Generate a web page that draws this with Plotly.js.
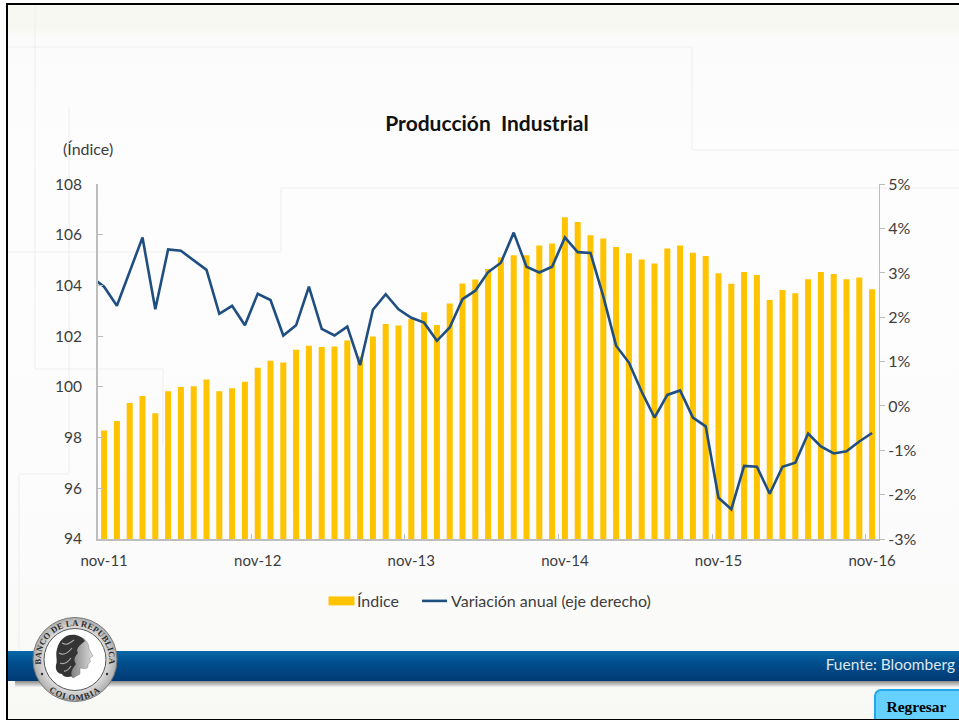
<!DOCTYPE html>
<html lang="es"><head><meta charset="utf-8">
<script src="https://cdn.plot.ly/plotly-3.0.1.min.js"></script>
<style>
html,body{margin:0;padding:0;background:#fff;width:959px;height:721px;overflow:hidden;font-family:Lato,sans-serif}
#bg{position:absolute;left:8px;top:4.5px;width:951px;height:714px;background:linear-gradient(#f8f8f3 0,#f8f8f3 25px,#fbfbfb 32px,#fdfdfd 200px,#fbfbfb 560px,#f8f8f5 714px)}
#chart{position:absolute;left:0;top:0;width:959px;height:721px}
.edge{position:absolute;background:#000}
#band{position:absolute;left:8px;top:650.5px;width:951px;height:30px;background:linear-gradient(#0b69a9 0,#02508f 35%,#003a74 100%)}
#shadow{position:absolute;left:15px;top:680.5px;width:944px;height:6px;background:linear-gradient(#8a8a8a,#f0f0f0)}
#fuente{position:absolute;right:4px;top:654px;color:#dbe6ef;font-size:15.5px;line-height:20px;white-space:nowrap}
#btn{position:absolute;left:874px;top:689px;width:85px;height:29.5px;box-sizing:border-box;background:#66d1ff;border:2px solid #1fa8ec;border-right:0;border-bottom:0;border-top-left-radius:7px;font:bold 15.5px "Liberation Serif",serif;color:#000;text-align:center;line-height:32px;padding-right:2px}
#seal{position:absolute;left:30px;top:614px}
</style></head><body>
<div id="bg"></div>
<div id="chart"></div>
<div id="shadow"></div><div id="band"></div>
<div id="fuente">Fuente: Bloomberg</div>
<div id="btn">Regresar</div>
<div class="edge" style="left:6px;top:2.5px;width:953px;height:2px"></div>
<div class="edge" style="left:6px;top:2.5px;width:2px;height:717.5px"></div>
<div class="edge" style="left:6px;top:718.5px;width:953px;height:1.5px"></div>
<svg id="seal" width="90" height="92" viewBox="0 0 90 92">
 <defs>
  <path id="arcTop" d="M 11.3 52 A 34.2 34.2 0 1 1 78.7 52"/>
  <path id="arcBot" d="M 17 75 A 40 40 0 0 0 73 75"/>
  <radialGradient id="ring" cx="50%" cy="50%" r="50%"><stop offset="70%" stop-color="#e4e4e4"/><stop offset="100%" stop-color="#adadad"/></radialGradient>
  <linearGradient id="face" x1="0" x2="1"><stop offset="0" stop-color="#6f6f6f"/><stop offset="1" stop-color="#dedede"/></linearGradient>
 </defs>
 <circle cx="45" cy="45.5" r="42" fill="url(#ring)" stroke="#7a7a7a" stroke-width="1"/>
 <circle cx="45" cy="45.5" r="31" fill="#fff" stroke="#555" stroke-width="1"/>
 <text font-family="Liberation Serif,serif" font-weight="bold" font-size="8.6" fill="#2c2c2c" letter-spacing="0.2"><textPath href="#arcTop" startOffset="50%" text-anchor="middle">BANCO DE LA REPUBLICA</textPath></text>
 <text font-family="Liberation Serif,serif" font-weight="bold" font-size="8.6" fill="#2c2c2c" letter-spacing="1"><textPath href="#arcBot" startOffset="50%" text-anchor="middle">COLOMBIA</textPath></text>
 <circle cx="12" cy="60" r="1.2" fill="#333"/><circle cx="77" cy="60" r="1.2" fill="#333"/>
 <path d="M48 23 C55 23 59 29 59 35 L63 42 L59.5 44 L60.5 48 L58 50 L58 53 C56 56 52 54 50 54 L50 60 L43 64 L37 58 L41 38 Z" fill="url(#face)" stroke="#666" stroke-width="0.4"/>
 <path d="M46 21 C36 19 29 26 27 35 C25 42 28 46 26 51 C25 56 28 60 32 60 C33 63 38 64 42 62 C40 58 43 54 46 50 C43 46 45 42 48 39 C45 35 50 31 55 27 C53 24 50 22 46 21 Z" fill="#343434"/>
 <path d="M32 29 C37 32 40 29 44 26 M29 39 C34 42 38 39 42 34 M30 49 C34 51 38 48 41 44 M34 57 C37 58 39 55 41 52" fill="none" stroke="#a8a8a8" stroke-width="1.2"/>
</svg>
<script>
// Meses: índice 0 = nov-11, índice 60 = nov-16
const tickMonths = [0, 12, 24, 36, 48, 60];
const tickLabels = ["nov-11", "nov-12", "nov-13", "nov-14", "nov-15", "nov-16"];
const indice = [98.28,98.66,99.37,99.64,98.96,99.83,100.0,100.03,100.3,99.83,99.95,100.21,100.76,101.04,100.97,101.47,101.63,101.58,101.6,101.83,101.2,101.99,102.49,102.43,102.68,102.95,102.45,103.3,104.08,104.24,104.66,105.12,105.2,105.2,105.58,105.66,106.7,106.51,105.99,105.86,105.53,105.28,105.03,104.87,105.47,105.58,105.3,105.17,104.49,104.07,104.54,104.42,103.43,103.83,103.7,104.25,104.54,104.46,104.25,104.32,103.86];
// La serie de variación empieza un mes antes (oct-11), recortada por el eje
const variacion = [2.91,2.69,2.26,3.05,3.80,2.18,3.53,3.50,3.28,3.07,2.08,2.26,1.82,2.53,2.39,1.59,1.82,2.69,1.74,1.59,1.79,0.92,2.17,2.52,2.18,1.99,1.88,1.47,1.77,2.41,2.60,3.02,3.23,3.91,3.14,3.01,3.14,3.80,3.47,3.45,2.47,1.36,0.98,0.32,-0.26,0.25,0.35,-0.26,-0.46,-2.07,-2.33,-1.35,-1.37,-1.98,-1.37,-1.28,-0.62,-0.91,-1.07,-1.02,-0.80,-0.61];
const rightTicks = [-3,-2,-1,0,1,2,3,4,5];
const rightLabels = ["-3%","-2%","-1%","0%","1%","2%","3%","4%","5%"];
const leftTicks = [94,96,98,100,102,104,106,108];
const titulo = "<b>Producción  Industrial</b>";
const unidad = "(Índice)";
const faintLines = [
 [35,4,35,369],[35,369,163,369],[163,369,163,445],
 [8,47,692,47],[692,47,692,150],[692,150,959,150],
 [69,107,69,474],[69,474,19,474],[19,474,19,650],
 [8,252,281,252],[281,252,281,188],[281,188,959,188]
];

const W = 959, H = 721;
const px = v => v / W, py = v => 1 - v / H;
const GREY = "#bdbdbd", TXT = "#3d3d3d", FONT = "Lato, sans-serif";

const traces = [
 {type:"bar", name:"Índice", x:indice.map((_,i)=>i), y:indice, marker:{color:"#ffc300",line:{width:0}}, xaxis:"x", yaxis:"y", hoverinfo:"y"},
 {type:"scatter", mode:"lines", name:"Variación anual (eje derecho)", x:variacion.map((_,i)=>i-1), y:variacion, line:{color:"#1f4e80",width:2.6}, xaxis:"x", yaxis:"y2", hoverinfo:"y"}
];
const layout = {
 width:W, height:H, margin:{l:0,r:0,t:0,b:0},
 paper_bgcolor:"rgba(0,0,0,0)", plot_bgcolor:"rgba(0,0,0,0)",
 font:{family:FONT,size:15,color:TXT},
 title:{text:titulo, x:px(487), xanchor:"center", y:py(124), yanchor:"middle", font:{family:FONT,size:21,color:"#111"}},
 bargap:0.53,
 showlegend:true,
 legend:{orientation:"h", x:px(317), xanchor:"left", y:py(601), yanchor:"middle", font:{family:FONT,size:16,color:TXT}, bgcolor:"rgba(0,0,0,0)", itemwidth:30, itemclick:false, itemdoubleclick:false},
 xaxis:{domain:[px(97.7),px(878.5)], range:[-0.5,60.5], tickmode:"array", tickvals:tickMonths, ticktext:tickLabels, ticks:"outside", ticklen:7, tickcolor:"rgba(0,0,0,0)", showgrid:false, zeroline:false, showline:true, linecolor:GREY, linewidth:1.5, tickangle:0,
   tickfont:{family:FONT,size:15,color:TXT}, minor:{tickmode:"linear",tick0:-0.5,dtick:12,ticks:"inside",ticklen:5,tickcolor:GREY,tickwidth:1,showgrid:false}},
 yaxis:{domain:[py(539),py(184.3)], range:[94,108], tickmode:"array", tickvals:leftTicks, ticks:"inside", ticklen:5, tickcolor:GREY, showgrid:false, zeroline:false, showline:true, linecolor:GREY, linewidth:1.5, ticklabelstandoff:11, tickfont:{family:FONT,size:15.5,color:TXT}},
 yaxis2:{domain:[py(539),py(184.3)], range:[-3,5], overlaying:"y", side:"right", anchor:"x", tickmode:"array", tickvals:rightTicks, ticktext:rightLabels, ticks:"outside", ticklen:5, tickcolor:GREY, showgrid:false, zeroline:false, showline:true, linecolor:GREY, linewidth:1.5, ticklabelstandoff:5.5, tickfont:{family:FONT,size:16,color:TXT}},
 annotations:[{text:unidad, xref:"paper", yref:"paper", x:px(88), y:py(148), xanchor:"center", yanchor:"middle", showarrow:false, font:{family:FONT,size:16,color:TXT}}],
 shapes:faintLines.map(l=>({type:"line", layer:"below", xref:"paper", yref:"paper", x0:px(l[0]), y0:py(l[1]), x1:px(l[2]), y1:py(l[3]), line:{color:"#f0f0f0",width:1.2}}))
};
Plotly.newPlot("chart", traces, layout, {displayModeBar:false, staticPlot:true}).then(()=>{
  // Ajuste fino de la leyenda: muestra ancha del índice y separación entre entradas
  const items = document.querySelectorAll("#chart .legend .traces");
  const box = document.querySelector("#chart .legend .scrollbox");
  if (box) box.removeAttribute("clip-path");
  if (items.length === 2) {
    items[0].querySelectorAll(".legendpoints path").forEach(p => {
      p.setAttribute("d","M17.5,4.5H-8.5V-4.5H17.5Z");
      p.style.strokeWidth = "0";
    });
    const m = /translate\(([-\d.]+)[ ,]+([-\d.]+)\)/.exec(items[1].getAttribute("transform") || "");
    if (m) items[1].setAttribute("transform", "translate(" + (parseFloat(m[1]) + 7) + "," + m[2] + ")");
  }
  const line = document.querySelector("#chart .legend .legendlines path");
  if (line) line.setAttribute("d","M11,0h25");
});
</script>
</body></html>
